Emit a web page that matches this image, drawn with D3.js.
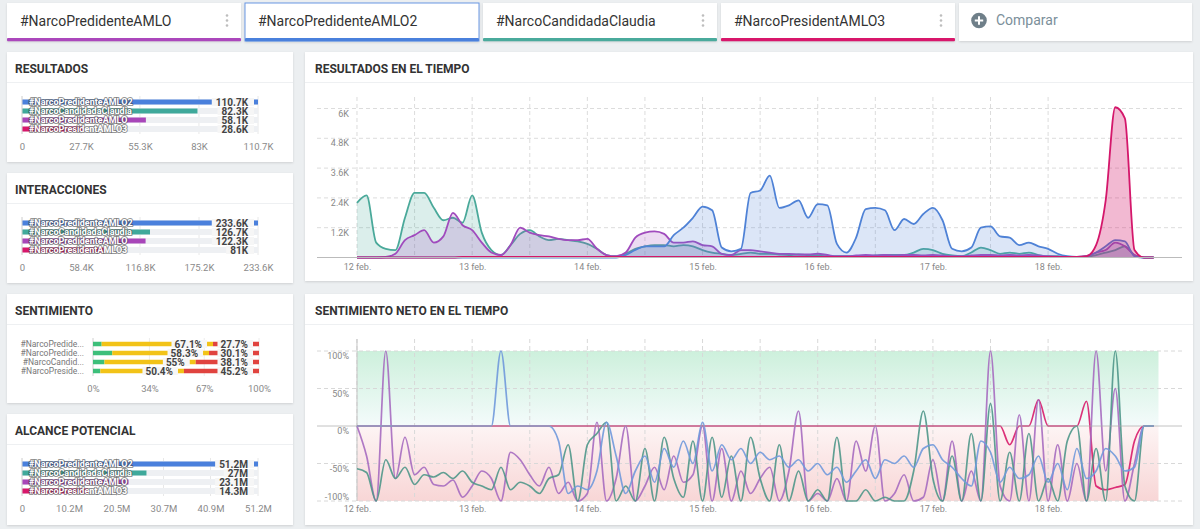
<!DOCTYPE html>
<html><head><meta charset="utf-8">
<script src="https://cdn.jsdelivr.net/npm/d3@7"></script>
<style>
body{margin:0;background:#eceff1;font-family:Roboto,"Noto Sans",Arial,sans-serif;}
svg{display:block}
</style></head><body>
<svg id="c" width="1200" height="529"></svg>
<script>
// ---------- DATA ----------
const tabNames = ["#NarcoPredidenteAMLO","#NarcoPredidenteAMLO2","#NarcoCandidadaClaudia","#NarcoPresidentAMLO3"];
const tabColors = ["#ab47bc","#4a80dc","#4aaa9c","#d8176b"];
const compareLabel = "Comparar";

const barCategories = ["#NarcoPredidenteAMLO2","#NarcoCandidadaClaudia","#NarcoPredidenteAMLO","#NarcoPresidentAMLO3"];
const barColors = ["#4a80dc","#3fa99b","#a846b9","#d8176b"];

const resultados = [110.7, 82.3, 58.1, 28.6];
const resultadosLabels = ["110.7K","82.3K","58.1K","28.6K"];
const resultadosTicks = [0, 27.7, 55.3, 83, 110.7];
const resultadosTickLabels = ["0","27.7K","55.3K","83K","110.7K"];

const interacciones = [233.6, 126.7, 122.3, 81];
const interaccionesLabels = ["233.6K","126.7K","122.3K","81K"];
const interaccionesTicks = [0, 58.4, 116.8, 175.2, 233.6];
const interaccionesTickLabels = ["0","58.4K","116.8K","175.2K","233.6K"];

const alcance = [51.2, 27, 23.1, 14.3];
const alcanceLabels = ["51.2M","27M","23.1M","14.3M"];
const alcanceTicks = [0, 10.2, 20.5, 30.7, 40.9, 51.2];
const alcanceTickLabels = ["0","10.2M","20.5M","30.7M","40.9M","51.2M"];

const sentCategories = ["#NarcoPredide...","#NarcoPredide...","#NarcoCandid...","#NarcoPreside..."];
const sentPositive = [5.2, 11.6, 6.9, 4.4];
const sentNeutral = [67.1, 58.3, 55, 50.4];
const sentNegative = [27.7, 30.1, 38.1, 45.2];
const sentTicks = [0, 34, 67, 100];
const sentTickLabels = ["0%","34%","67%","100%"];

const dayLabels = ["12 feb.","13 feb.","14 feb.","15 feb.","16 feb.","17 feb.","18 feb."];
const volTickLabels = ["1.2K","2.4K","3.6K","4.8K","6K"];
const volTicks = [1.2, 2.4, 3.6, 4.8, 6];
const sentLineTicks = [100, 50, 0, -50, -100];
const sentLineTickLabels = ["100%","50%","0%","-50%","-100%"];

// volume per 2 hours (thousands), from 12 feb 00:00
const volTeal = [2.2,2.5,0.6,0.35,0.3,1.6,2.6,2.6,2.0,1.5,
 1.6,1.4,2.5,1.0,0.3,0.1,0.5,0.95,1.1,0.85,
 0.7,0.75,0.7,0.65,0.55,0.35,0.1,0.05,0.15,0.35,
 0.45,0.5,0.5,0.45,0.5,0.45,0.3,0.2,0.15,0.1,
 0.15,0.2,0.15,0.15,0.12,0.1,0.12,0.1,0.08,0.05,
 0.05,0.05,0.05,0.05,0.08,0.1,0.1,0.1,0.2,0.35,
 0.3,0.15,0.08,0.05,0.2,0.4,0.3,0.15,0.2,0.15,
 0.2,0.1,0.05,0.05,0.02,0.02,0.02,0.1,0.2,0.3,
 0.45,0.1,0,0];
const volPurple = [0,0,0,0.02,0.15,0.7,0.9,1.1,0.6,0.85,
 1.8,1.3,1.1,0.6,0.2,0.1,0.5,1.2,1.0,0.9,
 0.85,0.75,0.7,0.7,0.75,0.35,0.1,0.05,0.2,0.8,
 1.0,1.05,0.95,0.6,0.6,0.65,0.5,0.45,0.15,0.1,
 0.3,0.3,0.25,0.2,0.15,0.15,0.12,0.12,0.15,0.1,
 0.05,0.05,0.08,0.1,0.08,0.1,0.08,0.1,0.1,0.08,
 0.1,0.08,0.05,0.05,0.08,0.1,0.1,0.08,0.1,0.08,
 0.1,0.08,0.05,0.03,0.02,0.02,0.05,0.2,0.3,0.6,
 0.45,0.1,0,0];
const volBlue = [0,0,0,0,0,0,0,0,0,0,
 0,0,0,0,0,0,0,0,0,0,
 0,0,0,0,0,0,0,0,0.1,0.3,
 0.45,0.45,0.45,0.9,1.2,1.6,2.05,1.9,0.4,0.25,
 0.35,2.6,2.7,3.3,2.0,2.1,2.3,1.6,2.15,2.1,
 0.55,0.2,0.8,1.95,2.0,1.9,1.1,1.55,1.35,1.75,
 2.0,1.5,0.35,0.25,0.4,1.2,1.25,0.85,0.8,0.5,
 0.6,0.45,0.35,0.15,0.05,0.02,0.05,0.2,0.45,0.7,
 0.65,0.05,0,0];
const volPink = [0,0,0,0,0,0,0,0,0,0,
 0,0.02,0.02,0.02,0.02,0.02,0.02,0.02,0.02,0.02,
 0.02,0.02,0.02,0.02,0.02,0.02,0.02,0.02,0.02,0.02,
 0.02,0.02,0.02,0.02,0.02,0.02,0.02,0.02,0.02,0.02,
 0.02,0.02,0.02,0.02,0.02,0.02,0.02,0.02,0.02,0.02,
 0.02,0.02,0.02,0.02,0.02,0.02,0.02,0.02,0.02,0.02,
 0.02,0.02,0.02,0.02,0.02,0.02,0.02,0.02,0.02,0.02,
 0.02,0.02,0.02,0.02,0.02,0.02,0.05,0.5,2.3,6.05,
 5.6,0.3,0,0];

// net sentiment per 2 hours (%)
const sentBlue = [0,0,0,0,0,0,0,0,0,0,
 0,0,0,0,0,100,0,0,0,0,
 0,-20,-90,-80,-85,-60,5,-40,-90,-60,
 -40,-75,-30,-55,-20,-50,5,-60,-25,-45,
 -30,-50,-35,-45,-40,-55,-45,-60,-50,-65,
 -55,-75,-60,-45,-70,-45,-50,-40,-55,-30,
 -25,-45,-55,-70,-80,-20,-35,-75,-55,-70,
 -65,-40,-75,-50,-85,-30,-70,-60,-30,-40,
 -60,-55,0,0];
const sentTeal = [-57,-62,-100,-45,-70,-55,-78,-65,-68,-62,
 -70,-60,-75,-80,-85,-55,-85,-75,-80,-90,
 -70,-65,-25,-100,-25,-10,5,-100,-80,-100,
 -30,-100,-15,-70,-95,-20,-100,-15,-95,-40,
 -100,-15,-70,-100,-25,-100,-60,-100,-85,-100,
 -15,-100,-100,-85,-100,-95,-100,-100,-60,20,
 -70,-100,-40,-100,-10,-100,30,-100,-35,-100,
 -10,-100,-70,-100,-20,0,-100,-30,-100,100,
 -80,-100,0,0];
const sentPurple = [0,-40,-100,100,-70,-15,-65,-55,-78,-80,
 -72,-95,-80,-60,-70,-100,-35,-45,-65,-80,
 -55,-90,-75,-100,-90,5,-100,-70,0,-100,
 -80,-55,-85,-40,-75,-65,0,-100,-30,-100,
 -60,-90,-70,-55,-100,-60,20,-100,-90,-100,
 -70,-100,-20,-60,0,-100,-90,-65,-100,-95,
 -45,-100,-20,-100,-60,-100,100,-80,-100,15,
 -100,35,-100,-25,-100,-50,-100,100,-60,50,
 -100,-50,0,0];
const sentPink = [0,0,0,0,0,0,0,0,0,0,
 0,0,0,0,0,0,0,0,0,0,
 0,0,0,0,0,0,0,0,0,0,
 0,0,0,0,0,0,0,0,0,0,
 0,0,0,0,0,0,0,0,0,0,
 0,0,0,0,0,0,0,0,0,0,
 0,0,0,0,0,0,0,0,-25,0,
 0,35,0,0,0,0,33,-80,-85,-82,
 -78,-20,0,0];

// ---------- DRAW ----------
const svg = d3.select("#c");
const FONT = "Roboto, 'Noto Sans', Arial, sans-serif";
svg.attr("font-family", FONT);
const defs = svg.append("defs");
const f = defs.append("filter").attr("id","sh").attr("x","-2%").attr("y","-5%").attr("width","104%").attr("height","115%");
f.append("feDropShadow").attr("dx",0).attr("dy",1).attr("stdDeviation",1).attr("flood-color","#000").attr("flood-opacity",0.13);

svg.append("rect").attr("width",1200).attr("height",529).attr("fill","#eceff1");

// Tabs
const tabX = [7, 245, 483, 721];
tabNames.forEach((n,i)=>{
  const g = svg.append("g").attr("transform",`translate(${tabX[i]},3)`);
  g.append("rect").attr("width",234).attr("height",38).attr("fill","#fff").attr("filter","url(#sh)")
    .attr("stroke", i===1 ? "#6a97e3" : "none").attr("stroke-width",1);
  g.append("rect").attr("y",35).attr("width",234).attr("height",3.2).attr("fill",tabColors[i]).attr("rx",1);
  g.append("text").attr("x",13).attr("y",22.5).text(n).attr("font-size",14).attr("fill","#333");
  if(i!==1){
    [12.5,17.5,22.5].forEach(cy=>g.append("circle").attr("cx",220).attr("cy",cy).attr("r",1.3).attr("fill","#bdbdbd"));
  }
});
{
  const g = svg.append("g").attr("transform","translate(959,3)");
  g.append("rect").attr("width",233).attr("height",38).attr("fill","#fff").attr("filter","url(#sh)");
  g.append("circle").attr("cx",20).attr("cy",17.5).attr("r",7.8).attr("fill","#6f7f89");
  g.append("path").attr("d","M20,13.3V21.7M15.8,17.5H24.2").attr("stroke","#fff").attr("stroke-width",2);
  g.append("text").attr("x",37).attr("y",21.5).text(compareLabel).attr("font-size",14).attr("fill","#7b8f9a");
}

function panel(x,y,w,h,title,tx){
  svg.append("rect").attr("x",x).attr("y",y).attr("width",w).attr("height",h).attr("fill","#fff").attr("filter","url(#sh)");
  svg.append("line").attr("x1",x).attr("x2",x+w).attr("y1",y+30.5).attr("y2",y+30.5).attr("stroke","#eef0f2");
  svg.append("text").attr("x",x+tx).attr("y",y+20.5).text(title).attr("font-size",12).attr("font-weight",700).attr("fill","#333");
}
panel(7,52,286,110,"RESULTADOS",8);
panel(7,173,286,110,"INTERACCIONES",8);
panel(7,294,286,109,"SENTIMIENTO",8);
panel(7,414,286,111,"ALCANCE POTENCIAL",8);
panel(305,52,888,229,"RESULTADOS EN EL TIEMPO",10);
panel(305,294,888,231,"SENTIMIENTO NETO EN EL TIEMPO",10);

function hbar(T, values, labels, ticks, tickLabels){
  const max = ticks[ticks.length-1];
  const x = d3.scaleLinear().domain([0,max]).range([22,258]);
  const y = d3.scaleBand().domain(barCategories).range([T+45.5,T+81.5]).paddingInner(0.45).paddingOuter(0.225);
  const g = svg.append("g");
  g.selectAll(".gl").data(ticks).join("line").attr("x1",d=>x(d)).attr("x2",d=>x(d))
    .attr("y1",T+44).attr("y2",T+82).attr("stroke","#e8e8e8");
  g.selectAll(".tr").data(barCategories).join("rect").attr("x",x(0)).attr("width",x(max)-x(0))
    .attr("y",d=>y(d)-0.5).attr("height",y.bandwidth()+1).attr("fill","#eef0f3");
  g.selectAll(".bar").data(values).join("rect").attr("x",x(0)).attr("width",d=>x(d)-x(0))
    .attr("y",(d,i)=>y(barCategories[i])).attr("height",y.bandwidth()).attr("fill",(d,i)=>barColors[i]);
  g.selectAll(".cl").data(barCategories).join("text").attr("x",29).attr("y",d=>y(d)+y.bandwidth()/2+3.2)
    .text(d=>d).attr("font-size",9).attr("font-weight",700).attr("fill","#fff")
    .attr("stroke","rgba(60,60,60,0.55)").attr("stroke-width",2).attr("paint-order","stroke").attr("stroke-linejoin","round");
  labels.forEach((l,i)=>{
    const cy = y(barCategories[i])+y.bandwidth()/2;
    const t = g.append("text").attr("x",248).attr("y",cy+3.6).attr("text-anchor","end").text(l)
      .attr("font-size",10).attr("font-weight",700).attr("fill","#444");
    const bb = t.node().getBBox();
    g.insert("rect", () => t.node()).attr("x",bb.x-4).attr("y",cy-4).attr("width",254-(bb.x-4)).attr("height",8).attr("fill","#f6f6f6");
  });
  g.append("line").attr("x1",x(0)).attr("x2",x(0)).attr("y1",T+44).attr("y2",T+82).attr("stroke","#d8d8d8");
  const ax = g.append("g").attr("transform",`translate(0,${T+88})`)
    .call(d3.axisBottom(x).tickValues(ticks).tickFormat((d,i)=>tickLabels[i]).tickSize(0));
  ax.select(".domain").remove();
  ax.selectAll("text").attr("font-size",9.5).attr("fill","#8a8a8a").attr("font-family",FONT);
}
hbar(52, resultados, resultadosLabels, resultadosTicks, resultadosTickLabels);
hbar(173, interacciones, interaccionesLabels, interaccionesTicks, interaccionesTickLabels);
hbar(414, alcance, alcanceLabels, alcanceTicks, alcanceTickLabels);

// Sentiment stacked bars
{
  const T = 294;
  const x = d3.scaleLinear().domain([0,100]).range([93,259]);
  const idx = d3.range(sentCategories.length);
  const y = d3.scaleBand().domain(idx).range([T+45.5,T+81.5]).paddingInner(0.5).paddingOuter(0.25);
  const g = svg.append("g");
  g.selectAll(".gl").data(sentTicks).join("line").attr("x1",d=>x(d)).attr("x2",d=>x(d))
    .attr("y1",T+44).attr("y2",T+82).attr("stroke",(d,i)=>i===0?"#d0d0d0":"#ececec");
  const cols = ["#3dbf7a","#f2c318","#e0433f"];
  idx.forEach(i=>{
    const segs = [sentPositive[i], sentNeutral[i], sentNegative[i]];
    let acc = 0;
    const yy = y(i), bh = y.bandwidth();
    segs.forEach((v,k)=>{
      g.append("rect").attr("x",x(acc)).attr("width",x(acc+v)-x(acc)).attr("y",yy).attr("height",bh).attr("fill",cols[k]);
      acc += v;
    });
    const cy = yy+bh/2;
    const neutEnd = x(sentPositive[i]+sentNeutral[i]);
    [[neutEnd, sentNeutral[i]], [x(100), sentNegative[i]]].forEach(([end,v])=>{
      const t = g.append("text").attr("x",end-11).attr("y",cy+3.6).attr("text-anchor","end").text(v+"%")
        .attr("font-size",10).attr("font-weight",700).attr("fill","#444");
      const bb = t.node().getBBox();
      g.insert("rect",()=>t.node()).attr("x",bb.x-3).attr("y",cy-4).attr("width",(end-6)-(bb.x-3)).attr("height",8).attr("fill","#f6f6f6");
    });
    g.append("text").attr("x",84).attr("y",cy+3).attr("text-anchor","end").text(sentCategories[i])
      .attr("font-size",8.5).attr("fill","#777");
  });
  const ax = g.append("g").attr("transform",`translate(0,${T+88})`)
    .call(d3.axisBottom(x).tickValues(sentTicks).tickFormat((d,i)=>sentTickLabels[i]).tickSize(0));
  ax.select(".domain").remove();
  ax.selectAll("text").attr("font-size",9.5).attr("fill","#8a8a8a").attr("font-family",FONT);
}

// ---------- Time charts ----------
const t0 = new Date(2024,1,12,0,0);
const H = 3600e3;
const times = volTeal.map((_,i)=>new Date(t0.getTime()+i*2*H));
const xT = d3.scaleTime().domain([new Date(t0.getTime()-8.33*H), new Date(t0.getTime()+171.9*H)]).range([317,1182]);
const dayTicks = d3.range(7).map(i=>new Date(t0.getTime()+i*24*H));
const halfTicks = d3.range(13).map(i=>new Date(t0.getTime()+i*12*H));

// Volume chart
{
  const y = d3.scaleLinear().domain([0,6]).range([257.5,108.5]);
  const g = svg.append("g");
  g.selectAll(".vg").data(halfTicks).join("line").attr("x1",d=>xT(d)).attr("x2",d=>xT(d))
    .attr("y1",97).attr("y2",257).attr("stroke","#dcdcdc").attr("stroke-dasharray","4,3");
  g.selectAll(".hg").data(volTicks).join("line").attr("x1",317).attr("x2",1182)
    .attr("y1",d=>y(d)).attr("y2",d=>y(d)).attr("stroke","#dcdcdc").attr("stroke-dasharray","4,3");
  g.selectAll(".yl").data(volTicks).join("text").attr("x",349).attr("y",d=>y(d)+8).attr("text-anchor","end")
    .text((d,i)=>volTickLabels[i]).attr("font-size",9).attr("fill","#888");
  const series = [[volTeal,"#4aa99a",0.2],[volPurple,"#a04bbd",0.2],[volBlue,"#4f82d6",0.2],[volPink,"#d4176b",0.3]];
  series.forEach(([vals,c,op])=>{
    const data = vals.map((v,i)=>[times[i],v]);
    g.append("path").datum(data).attr("fill",c).attr("fill-opacity",op)
      .attr("d",d3.area().x(d=>xT(d[0])).y0(y(0)).y1(d=>y(d[1])).curve(d3.curveMonotoneX));
    g.append("path").datum(data).attr("fill","none").attr("stroke",c).attr("stroke-width",1.8)
      .attr("d",d3.line().x(d=>xT(d[0])).y(d=>y(d[1])).curve(d3.curveMonotoneX));
  });
  g.append("line").attr("x1",317).attr("x2",1182).attr("y1",257.5).attr("y2",257.5).attr("stroke","#bbb");
  const ax = g.append("g").attr("transform","translate(0,261)")
    .call(d3.axisBottom(xT).tickValues(dayTicks).tickFormat((d,i)=>dayLabels[i]).tickSize(0));
  ax.select(".domain").remove();
  ax.selectAll("text").attr("font-size",9).attr("fill","#888").attr("font-family",FONT);
}

// Sentiment line chart
{
  const y = d3.scaleLinear().domain([-100,100]).range([501,351]);
  const g = svg.append("g");
  const gp = defs.append("linearGradient").attr("id","gpos").attr("x1",0).attr("x2",0).attr("y1",0).attr("y2",1);
  gp.append("stop").attr("offset","0%").attr("stop-color","#cdf0dc");
  gp.append("stop").attr("offset","100%").attr("stop-color","#f4fbfb");
  const gn = defs.append("linearGradient").attr("id","gneg").attr("x1",0).attr("x2",0).attr("y1",0).attr("y2",1);
  gn.append("stop").attr("offset","0%").attr("stop-color","#fdf4f4");
  gn.append("stop").attr("offset","100%").attr("stop-color","#f8d6d6");
  const xa = xT(t0), xb = xT(new Date(t0.getTime()+167*H));
  g.append("rect").attr("x",xa).attr("width",xb-xa).attr("y",y(100)).attr("height",y(0)-y(100)).attr("fill","url(#gpos)");
  g.append("rect").attr("x",xa).attr("width",xb-xa).attr("y",y(0)).attr("height",y(-100)-y(0)).attr("fill","url(#gneg)");
  g.selectAll(".vg").data(halfTicks).join("line").attr("x1",d=>xT(d)).attr("x2",d=>xT(d))
    .attr("y1",339).attr("y2",501).attr("stroke","#d8d8d8").attr("stroke-dasharray","4,3");
  g.selectAll(".hg").data(sentLineTicks.filter(d=>d!==0)).join("line").attr("x1",317).attr("x2",1182)
    .attr("y1",d=>y(d)).attr("y2",d=>y(d)).attr("stroke","#d8d8d8").attr("stroke-dasharray","4,3");
  g.append("line").attr("x1",xa).attr("x2",xa).attr("y1",339).attr("y2",501).attr("stroke","#c4c4c4");
  g.selectAll(".yl").data(sentLineTicks).join("text").attr("x",349).attr("y",d=>Math.min(y(d)+8,500))
    .attr("text-anchor","end").text((d,i)=>sentLineTickLabels[i]).attr("font-size",9).attr("fill","#888");
  const series = [[sentPink,"#d81b6a"],[sentPurple,"#a66bc0"],[sentTeal,"#4f978a"],[sentBlue,"#7099dc"]];
  series.forEach(([vals,c])=>{
    const data = vals.map((v,i)=>[times[i],v]);
    g.append("path").datum(data).attr("fill","none").attr("stroke",c).attr("stroke-width",1.7).attr("stroke-opacity",0.9)
      .attr("d",d3.line().x(d=>xT(d[0])).y(d=>y(d[1])).curve(d3.curveMonotoneX));
  });
  g.append("line").attr("x1",317).attr("x2",1182).attr("y1",y(0)).attr("y2",y(0)).attr("stroke","#a8a8a8").attr("stroke-opacity",0.7);
  const ax = g.append("g").attr("transform","translate(0,503)")
    .call(d3.axisBottom(xT).tickValues(dayTicks).tickFormat((d,i)=>dayLabels[i]).tickSize(0));
  ax.select(".domain").remove();
  ax.selectAll("text").attr("font-size",9).attr("fill","#888").attr("font-family",FONT);
}
</script>
</body></html>
